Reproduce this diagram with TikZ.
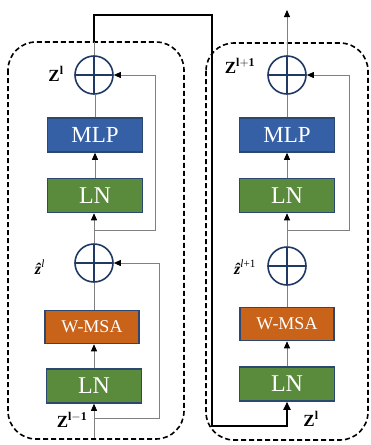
\documentclass[tikz,border=0pt]{standalone}
\usepackage{fontspec}
\setmainfont{Liberation Serif}
\usepackage{amsmath}
\usetikzlibrary{arrows.meta}

\definecolor{mlpblue}{HTML}{3560A6}
\definecolor{lngreen}{HTML}{5A8A3C}
\definecolor{msaorange}{HTML}{C9631A}
\definecolor{edgenavy}{HTML}{2C4770}
\definecolor{opnavy}{HTML}{1F3864}
\definecolor{wiregray}{HTML}{808080}

\tikzset{
  block/.style={draw=edgenavy, line width=1.5pt, text=white, minimum width=95pt,
    minimum height=34pt, inner sep=0pt},
  mlpbox/.style={block, fill=mlpblue, font=\fontsize{23}{23}\selectfont},
  lnbox/.style={block, fill=lngreen, font=\fontsize{24}{24}\selectfont},
  msabox/.style={block, fill=msaorange, minimum width=94pt, minimum height=33pt,
    font=\fontsize{18}{18}\selectfont},
  addop/.style={circle, draw=opnavy, line width=1.6pt, minimum size=38pt, inner sep=0pt,
    path picture={\draw[opnavy, line width=1.6pt]
      (path picture bounding box.north) -- (path picture bounding box.south)
      (path picture bounding box.west) -- (path picture bounding box.east);}},
  wire/.style={draw=wiregray, line width=0.8pt},
  feed/.style={wire, -{Triangle[length=7pt,width=6pt,color=black]}},
  stage/.style={draw=black, line width=1.6pt, dash pattern=on 5pt off 3pt, rounded corners=28pt},
  carry/.style={draw=black, line width=1.8pt},
  zlabel/.style={font=\fontsize{17}{17}\selectfont, inner sep=0pt},
  hlabel/.style={font=\fontsize{16}{16}\selectfont, inner sep=0pt}
}

\begin{document}
\begin{tikzpicture}[x=1pt, y=-1pt]
\useasboundingbox (0,0) rectangle (370,445);

% the two transformer stages
\draw[stage] (8,42) rectangle (184,439);
\draw[stage] (206,43) rectangle (368,440);

% left stage: W-MSA block
\node[lnbox]  (lnL1)  at (94,386)   {LN};
\node[msabox] (msaL)  at (92,327)   {W-MSA};
\node[addop]  (addL1) at (94,263)   {};
\node[lnbox]  (lnL2)  at (95,195.5) {LN};
\node[mlpbox] (mlpL)  at (95,135)   {MLP};
\node[addop]  (addL2) at (94,75)    {};

% right stage: same layout
\node[lnbox]  (lnR1)  at (287,384)   {LN};
\node[msabox] (msaR)  at (287,324)   {W-MSA};
\node[addop]  (addR1) at (287,266)   {};
\node[lnbox]  (lnR2)  at (287,195.5) {LN};
\node[mlpbox] (mlpR)  at (287,135)   {MLP};
\node[addop]  (addR2) at (287,75)    {};

% labels
\node[zlabel] (zin)   at (72,420)  {$\mathbf{Z}^{\mathbf{l-1}}$};
\node[hlabel] (zhatL) at (40,267)  {\textbf{\textit{ẑ}}\textsuperscript{\textit{l}}};
\node[zlabel] (zoutL) at (56,74)   {$\mathbf{Z}^{\mathbf{l}}$};
\node[zlabel] (zinR)  at (311,419) {$\mathbf{Z}^{\mathbf{l}}$};
\node[hlabel] (zhatR) at (245,267) {\textbf{\textit{ẑ}}\textsuperscript{\textit{l}+1}};
\node[zlabel] (zoutR) at (240,66)  {$\mathbf{Z}^{\mathbf{l+1}}$};

% left stage wiring
\coordinate (inL)  at (94,438);
\coordinate (brL1) at (94,418);
\coordinate (skL1) at (159,418);
\coordinate (brL2) at (94,230);
\coordinate (skL2) at (155,230);
\draw[feed] (inL) -- (lnL1.south);
\draw[feed] (lnL1.north) -- (lnL1.north |- msaL.south);
\draw[wire] (msaL.north -| addL1.south) -- (addL1.south);
\draw[feed] (addL1.north) -- (addL1.north |- lnL2.south);
\draw[feed] (lnL2.north) -- (mlpL.south);
\draw[wire] (mlpL.north) -- (mlpL.north |- addL2.south);
\draw[feed] (brL1) -- (skL1) |- (addL1.east);
\draw[feed] (brL2) -- (skL2) |- (addL2.east);

% right stage wiring
\coordinate (brR2) at (287,230);
\coordinate (skR2) at (349,230);
\coordinate (outR) at (287,10);
\draw[feed] (lnR1.north) -- (msaR.south);
\draw[wire] (msaR.north) -- (addR1.south);
\draw[feed] (addR1.north) -- (lnR2.south);
\draw[feed] (lnR2.north) -- (mlpR.south);
\draw[wire] (mlpR.north) -- (addR2.south);
\draw[feed] (brR2) -- (skR2) |- (addR2.east);
\draw[feed] (addR2.north) -- (outR);

% output of the left stage carried into the right stage
\coordinate (kL)   at (94,42);
\coordinate (topL) at (94,15);
\coordinate (topR) at (212,15);
\coordinate (botR) at (212,426);
\draw[wire] (addL2.north) -- (kL);
\draw[carry, -{Triangle[length=8pt,width=7pt]}] (kL) -- (topL) -- (topR) -- (botR) -| (lnR1.south);
\end{tikzpicture}
\end{document}
